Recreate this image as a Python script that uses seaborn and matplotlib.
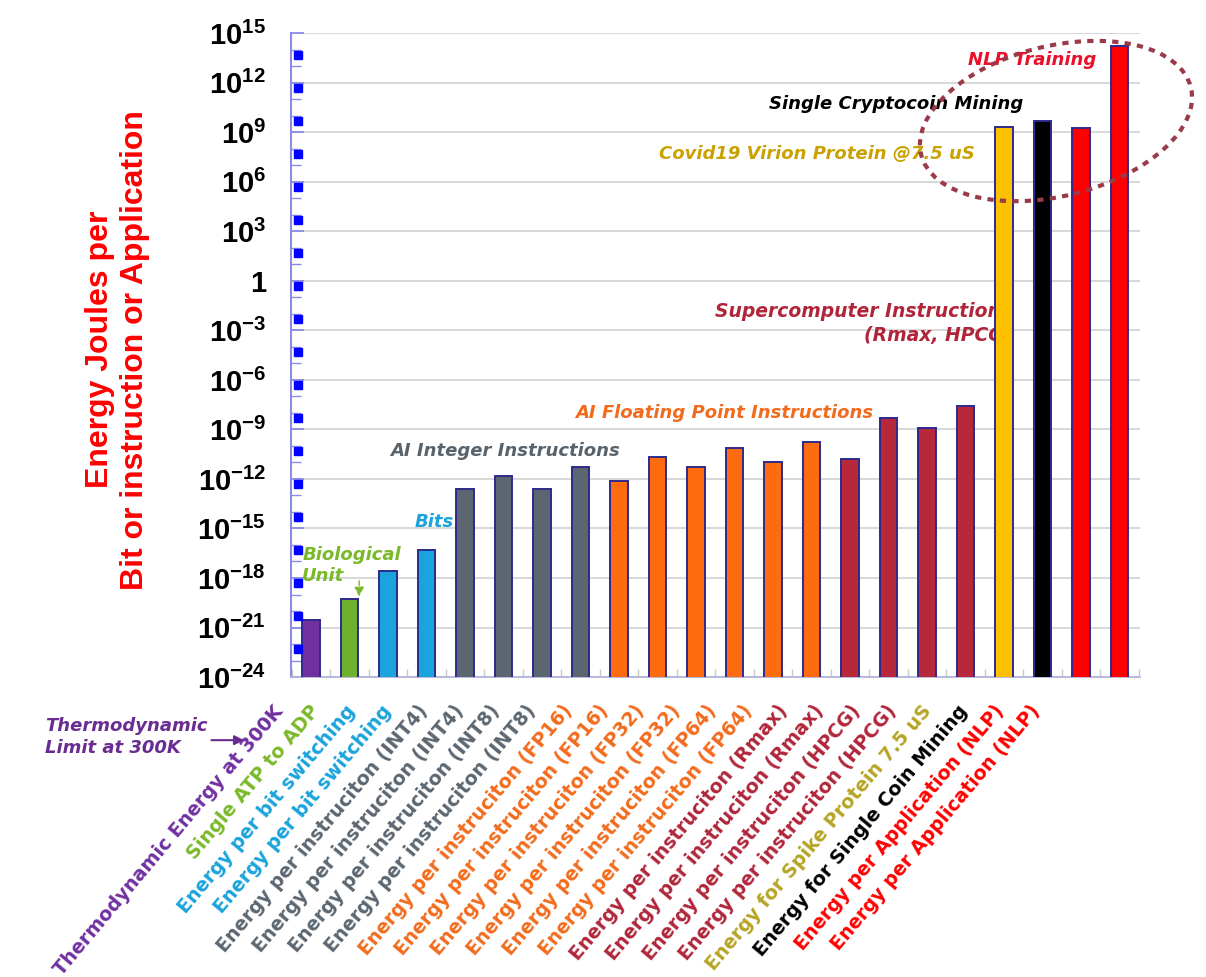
import numpy as np
import pandas as pd
import matplotlib
matplotlib.use("Agg")
import matplotlib.pyplot as plt
import matplotlib.transforms as mtrans
from matplotlib.patches import Ellipse
from matplotlib.ticker import FixedLocator, NullFormatter
import seaborn as sns

# ---------------- data ----------------
labels = [
    "Thermodynamic Energy at 300K",
    "Single ATP to ADP",
    "Energy per bit switching",
    "Energy per bit switching",
    "Energy per instruciton (INT4)",
    "Energy per instruciton (INT4)",
    "Energy per instruciton (INT8)",
    "Energy per instruciton (INT8)",
    "Energy per instruciton (FP16)",
    "Energy per instruciton (FP16)",
    "Energy per instruciton (FP32)",
    "Energy per instruciton (FP32)",
    "Energy per instruciton (FP64)",
    "Energy per instruciton (FP64)",
    "Energy per instruciton (Rmax)",
    "Energy per instruciton (Rmax)",
    "Energy per instruciton (HPCG)",
    "Energy per instruciton (HPCG)",
    "Energy for Spike Protein 7.5 uS",
    "Energy for Single Coin Mining",
    "Energy per Application (NLP)",
    "Energy per Application (NLP)",
]
values = [3e-21, 5e-20, 2.5e-18, 5e-17,
          2.5e-13, 1.6e-12, 2.3e-13, 5e-12,
          8e-13, 2.2e-11, 5e-12, 7e-11, 1.1e-11, 1.8e-10,
          1.7e-11, 5e-9, 1.3e-9, 2.8e-8,
          2e9, 4.8e9, 1.8e9, 1.6e14]

PURPLE, GREEN, BLUE, GREY = "#7030A0", "#70B02F", "#1AA3DC", "#5B6670"
ORANGE, DRED, YELLOW, BLACK, RED = "#FF6B0F", "#B7283A", "#FFC000", "#000000", "#FF0000"
bar_colors = [PURPLE, GREEN, BLUE, BLUE, GREY, GREY, GREY, GREY,
              ORANGE, ORANGE, ORANGE, ORANGE, ORANGE, ORANGE,
              DRED, DRED, DRED, DRED, YELLOW, BLACK, RED, RED]
label_colors = [PURPLE, "#7AB929", BLUE, BLUE, GREY, GREY, GREY, GREY,
                "#F26B1D", "#F26B1D", "#F26B1D", "#F26B1D", "#F26B1D", "#F26B1D",
                "#B0253A", "#B0253A", "#B0253A", "#B0253A", "#B5A424", BLACK, RED, RED]

major_exp = list(range(-24, 16, 3))
ytick_labels = ["1" if e == 0 else r"$\mathbf{10^{%d}}$" % e for e in major_exp]

# ---------------- style ----------------
sns.set_theme(style="white")
plt.rcParams["font.family"] = ["DejaVu Sans"]
plt.rcParams["mathtext.fontset"] = "custom"
plt.rcParams["mathtext.bf"] = "Liberation Sans:bold"
plt.rcParams["mathtext.rm"] = "Liberation Sans"

fig = plt.figure(figsize=(12.06, 9.77), dpi=100)
ax = fig.add_axes([0.2413, 0.307, 0.704, 0.659])
ax.set_yscale("log")

cats = [f"c{i}" for i in range(len(values))]
df = pd.DataFrame({"cat": cats, "value": values})
sns.barplot(data=df, x="cat", y="value", hue="cat", palette=bar_colors,
            saturation=1, legend=False, width=0.45, edgecolor="#2E2A8C",
            linewidth=1.4, ax=ax, zorder=3)

ax.set_ylim(1e-24, 1e15)
ax.set_xlim(-0.52, 21.53)

# y axis ticks
ax.yaxis.set_major_locator(FixedLocator([10.0 ** e for e in major_exp]))
ax.set_yticklabels(ytick_labels)
minor_exp = [e for e in range(-24, 16) if e % 3 != 0]
ax.yaxis.set_minor_locator(FixedLocator([10.0 ** e for e in minor_exp]))
ax.yaxis.set_minor_formatter(NullFormatter())
ax.tick_params(axis="y", which="major", direction="in", length=9, width=1.3,
               color="#8C8CE6", labelsize=21, labelcolor="#000000", pad=18, left=True)
ax.tick_params(axis="y", which="minor", direction="in", length=7, width=1.0,
               color="#8C8CE6", left=True)
for t in ax.get_yticklabels():
    t.set_fontweight("bold")
    t.set_fontfamily("Liberation Sans")

# blue square markers along the y axis
sq_exp = np.arange(13.7, -23, -2.0)
ax.plot(np.full(len(sq_exp), 0.008), 10.0 ** sq_exp, "s", color="#0000FF",
        markersize=5.5, transform=mtrans.blended_transform_factory(ax.transAxes, ax.transData),
        clip_on=False, zorder=5)

# grid
ax.yaxis.grid(True, which="major", color="#D9D9D9", linewidth=1.5)
ax.set_axisbelow(True)

# spines
for s in ["top", "right"]:
    ax.spines[s].set_visible(False)
ax.spines["left"].set_color("#8C8CE6")
ax.spines["left"].set_linewidth(1.5)
ax.spines["bottom"].set_color("#B4B4DC")
ax.spines["bottom"].set_linewidth(1.3)

# x ticks
ax.set_xticks(range(len(labels)))
ax.set_xticklabels(labels)
ax.set_xticks(np.arange(-0.5, len(labels), 1.0), minor=True)
ax.tick_params(axis="x", which="major", length=0, pad=4)
ax.tick_params(axis="x", which="minor", direction="in", length=6, color="#C8C8C8", bottom=True)
for i, (t, c) in enumerate(zip(ax.get_xticklabels(), label_colors)):
    t.set_color(c)
    t.set_fontsize(13.8)
    t.set_fontweight("bold")
    t.set_rotation(50)
    t.set_ha("right")
    t.set_va("top")
    t.set_rotation_mode("anchor")
    off = mtrans.ScaledTranslation((-38 - 2.5 * i) / 100.0, -0.19, fig.dpi_scale_trans)
    t.set_transform(t.get_transform() + off)

ax.set_xlabel("")
ax.set_ylabel("")

# y label (two centred lines)
fig.text(0.0975, 0.642, "Energy Joules per\nBit or instruction or Application",
         rotation=90, ha="center", va="center", multialignment="center",
         color="#FF0000", fontsize=23, fontweight="bold", family="Liberation Sans",
         linespacing=1.2)

# annotations
ann = dict(fontweight="bold", style="italic", fontsize=13)
ax.text(20.4, 10 ** 13.4, "NLP Training", color="#E8102A", ha="right", va="center", **ann)
ax.text(18.5, 10 ** 10.7, "Single Cryptocoin Mining", color="#000000", ha="right", va="center", **ann)
ax.text(17.25, 10 ** 7.7, "Covid19 Virion Protein @7.5 uS", color="#C9A100", ha="right", va="center", **ann)
ax.text(18.2, 10 ** -2.6, "Supercomputer Instructions\n(Rmax, HPCG)", color="#B0253A",
        ha="right", va="center", multialignment="right", zorder=2, linespacing=1.35,
        fontweight="bold", style="italic", fontsize=13.5)
ax.text(14.6, 10 ** -8.0, "AI Floating Point Instructions", color="#F26B1D", ha="right", va="center", **ann)
ax.text(8.03, 10 ** -10.3, "AI Integer Instructions", color="#59636B", ha="right", va="center", **ann)
ax.text(3.7, 10 ** -14.6, "Bits", color=BLUE, ha="right", va="center", **ann)
ax.text(-0.23, 10 ** -17.25, "Biological\nUnit", color="#7AB929", ha="left", va="center",
        linespacing=1.2, **ann)
ax.annotate("", xy=(1.25, 10 ** -19.3), xytext=(1.25, 10 ** -18.0),
            arrowprops=dict(arrowstyle="-|>", color="#7AB929", lw=1.0, ls="--",
                            mutation_scale=14))

# Thermodynamic limit note (outside axes)
ax.text(-0.29, -0.093, "Thermodynamic\nLimit at 300K", transform=ax.transAxes,
        color="#6A2C91", ha="left", va="center", linespacing=1.3, clip_on=False, **ann)
ax.annotate("", xy=(-0.052, -0.098), xytext=(-0.097, -0.098), xycoords="axes fraction",
            arrowprops=dict(arrowstyle="-|>", color="#6A2C91", lw=1.5, mutation_scale=14),
            annotation_clip=False)

# dashed ellipse around the top group
ell = Ellipse((10.56, (977 - 121) / 100.0), 2.78, 1.50, angle=14,
              transform=fig.dpi_scale_trans, fill=False, edgecolor="#9B3A48",
              linewidth=3, linestyle=(0, (1.5, 1.5)), zorder=6)
fig.patches.append(ell)

fig.savefig("out.png", dpi=100)
